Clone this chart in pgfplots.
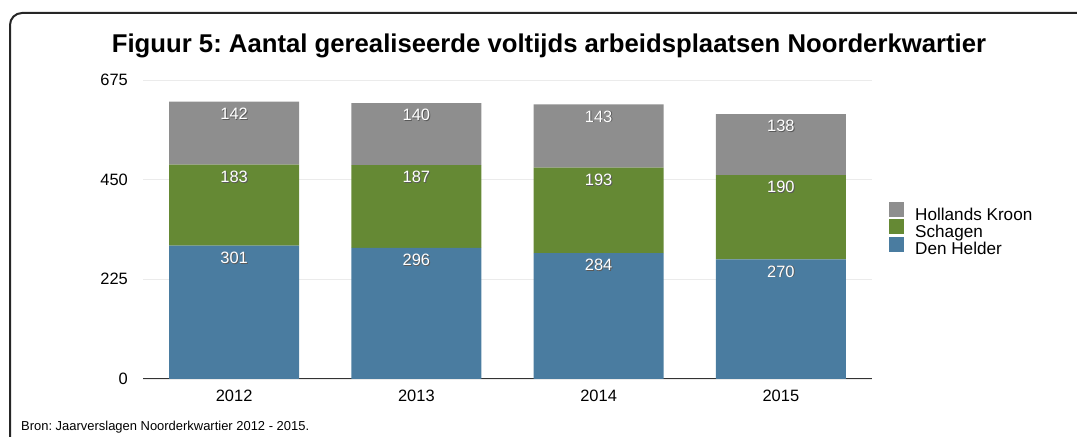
\documentclass[border=0pt]{standalone}
\usepackage{pgfplots}
\pgfplotsset{compat=1.18}
\usepackage{fontspec}
\setmainfont{Liberation Sans}
\frenchspacing
\definecolor{hk}{RGB}{142,142,142}
\definecolor{sch}{RGB}{101,137,52}
\definecolor{dh}{RGB}{74,124,160}
\newcommand{\lbl}[1]{\rlap{\hspace{0.9bp}\raisebox{-0.9bp}{\color{black!65}#1}}{\color{white}#1}}
\pgfplotsset{sq/.style={legend image code/.code={\fill[##1,draw=none] (0bp,-1bp) rectangle (15bp,14bp);}}}
\begin{document}
\begin{tikzpicture}[x=1bp,y=1bp]
\useasboundingbox (0,0) rectangle (1077,437);
\begin{scope}
\clip (0,0) rectangle (1077,437);
\draw[line width=2bp, black!85, rounded corners=12bp] (10,-30) rectangle (1110,424);
\end{scope}
\node[anchor=base, inner sep=0pt, font=\bfseries\fontsize{25.8}{30}\selectfont] at (549,384) {Figuur 5: Aantal gerealiseerde voltijds arbeidsplaatsen Noorderkwartier};
\node[anchor=base west, inner sep=0pt, font=\fontsize{13}{15}\selectfont] at (21,6) {Bron: Jaarverslagen Noorderkwartier 2012 - 2015.};
\begin{axis}[
  at={(143bp,58bp)}, anchor=south west,
  scale only axis, width=729bp, height=299bp,
  ybar stacked, bar width=130bp,
  xmin=-0.5, xmax=3.5, ymin=0, ymax=675,
  xtick={0,1,2,3}, xticklabels={2012,2013,2014,2015},
  ytick={0,225,450,675},
  ymajorgrids, grid style={draw=black!8, line width=0.8bp},
  axis x line*=bottom, axis y line*=left,
  y axis line style={draw=none},
  x axis line style={draw=black!80, line width=1bp},
  major tick length=0pt,
  /pgf/number format/assume math mode=true,
  tick label style={font=\fontsize{16.5}{19}\selectfont, inner sep=0pt},
  yticklabel style={xshift=-15bp},
  xticklabel style={yshift=-11bp},
  point meta=rawy,
  visualization depends on={rawy \as \rawy},
  nodes near coords={\lbl{\pgfmathprintnumber{\pgfplotspointmeta}}},
  every node near coord/.append style={anchor=north, yshift={\rawy*0.221481bp-6bp}, inner sep=0pt, font=\fontsize{16.5}{19}\selectfont},
  legend style={at={(1.0233,0.592)}, anchor=north west, draw=none, fill=none,
    font=\fontsize{17.2}{19}\selectfont, inner sep=0pt, row sep=-4.5bp, column sep=11bp,
    nodes={inner sep=0pt, text height=12bp, text depth=3.5bp}},
  legend cell align=left,
  reverse legend,
]
\addplot[fill=dh, draw=none, sq] coordinates {(0,301) (1,296) (2,284) (3,270)};
\addplot[fill=sch, draw=none, sq] coordinates {(0,183) (1,187) (2,193) (3,190)};
\addplot[fill=hk, draw=none, sq] coordinates {(0,142) (1,140) (2,143) (3,138)};
\legend{Den Helder, Schagen, Hollands Kroon}
\end{axis}
\end{tikzpicture}
\end{document}
